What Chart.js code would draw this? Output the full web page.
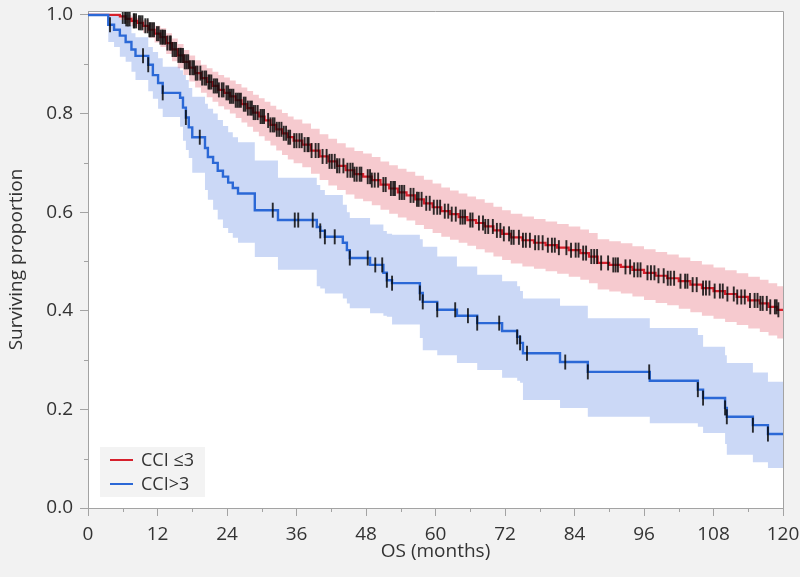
<!DOCTYPE html>
<html>
<head>
<meta charset="utf-8">
<title>Overall survival by CCI</title>
<script src="https://cdn.jsdelivr.net/npm/chart.js@4.4.0/dist/chart.umd.min.js"></script>
<style>
  html, body { margin: 0; padding: 0; background: #f2f2f2; }
  canvas { display: block; }
</style>
</head>
<body>
<canvas id="kmChart" width="800" height="577"></canvas>
<script>
// Kaplan-Meier overall survival, CCI <=3 vs CCI >3, with 95% bands and censor ticks.
// Values.

// CCI <=3 (red)
const RED_T = [0, 5.5, 6.5, 7.5, 8.5, 9.5, 10.5, 11.5, 12.5, 13.5, 14.5, 15.5, 16.5, 17.5, 18.5, 19.5,
  20.5, 21.5, 22.5, 23.5, 24.5, 25.5, 26.5, 27.5, 28.5, 29.5, 30.5, 31.5, 32.5, 33.5, 34.5, 35.5,
  37, 38.5, 40, 41.5, 43, 44.5, 46, 47.5, 49, 50.5, 52, 53.5, 55, 56.5, 58, 59.5, 61, 62.5, 64, 65.5,
  67, 68.5, 70, 71.5, 73, 75, 77, 79, 81, 83, 85, 86.5, 88, 90, 92, 94, 96, 98, 100, 102, 104, 106,
  108, 110, 112, 114, 116, 117.5, 119, 120];
const RED_S = [1.0, 0.997, 0.992, 0.988, 0.984, 0.978, 0.970, 0.962, 0.955, 0.943, 0.930, 0.918, 0.905, 0.893, 0.882, 0.872,
  0.864, 0.856, 0.848, 0.842, 0.835, 0.827, 0.819, 0.811, 0.802, 0.794, 0.786, 0.777, 0.768, 0.760, 0.752, 0.745,
  0.737, 0.725, 0.713, 0.703, 0.694, 0.685, 0.677, 0.672, 0.665, 0.656, 0.648, 0.640, 0.634, 0.626, 0.618, 0.610, 0.602, 0.596, 0.590, 0.584,
  0.578, 0.571, 0.563, 0.556, 0.549, 0.543, 0.538, 0.533, 0.528, 0.523, 0.517, 0.510, 0.497, 0.493, 0.489, 0.483, 0.477, 0.471, 0.466, 0.460, 0.453, 0.446,
  0.440, 0.434, 0.428, 0.421, 0.415, 0.408, 0.402, 0.402];
const RED_HI = [1.0, 1.0, 1.0, 0.997, 0.994, 0.990, 0.984, 0.978, 0.973, 0.963, 0.952, 0.941, 0.929, 0.918, 0.908, 0.899,
  0.892, 0.885, 0.878, 0.873, 0.867, 0.860, 0.853, 0.846, 0.838, 0.831, 0.824, 0.816, 0.808, 0.801, 0.794, 0.788,
  0.780, 0.769, 0.758, 0.749, 0.740, 0.731, 0.724, 0.719, 0.712, 0.703, 0.695, 0.688, 0.682, 0.674, 0.666, 0.658, 0.650, 0.644, 0.638, 0.632,
  0.626, 0.619, 0.611, 0.604, 0.597, 0.591, 0.586, 0.581, 0.576, 0.571, 0.565, 0.558, 0.545, 0.541, 0.537, 0.531, 0.525, 0.519, 0.514, 0.508, 0.501, 0.494,
  0.488, 0.482, 0.476, 0.469, 0.463, 0.456, 0.450, 0.450];
const RED_LO = [1.0, 0.990, 0.983, 0.977, 0.972, 0.964, 0.954, 0.944, 0.935, 0.921, 0.906, 0.892, 0.878, 0.865, 0.853, 0.842,
  0.833, 0.824, 0.815, 0.808, 0.800, 0.791, 0.782, 0.773, 0.763, 0.754, 0.745, 0.735, 0.725, 0.716, 0.707, 0.699,
  0.691, 0.678, 0.665, 0.654, 0.645, 0.636, 0.627, 0.622, 0.614, 0.605, 0.597, 0.589, 0.583, 0.574, 0.566, 0.558, 0.550, 0.544, 0.538, 0.532,
  0.525, 0.518, 0.510, 0.503, 0.496, 0.490, 0.485, 0.480, 0.475, 0.469, 0.463, 0.456, 0.443, 0.439, 0.435, 0.429, 0.422, 0.416, 0.411, 0.404, 0.397, 0.390,
  0.384, 0.377, 0.371, 0.364, 0.357, 0.350, 0.344, 0.344];
const RED_CENSOR = [6.0, 6.4, 6.6, 6.9, 7.2, 7.9, 8.0, 8.3, 8.8, 9.1, 9.4, 9.9, 10.3, 10.6, 10.8, 11.1, 11.4, 11.9, 12.2,
  12.5, 12.8, 13.0, 13.3, 13.7, 14.1, 14.3, 14.6, 14.9, 15.2, 15.6, 15.9, 16.1, 16.4, 16.7, 17.0, 17.3, 17.6, 18.0,
  18.3, 18.6, 18.9, 19.4, 19.7, 20.1, 20.4, 20.8, 21.0, 21.3, 21.7, 22.0, 22.3, 22.6, 23.1, 23.4, 23.9, 24.2, 24.5,
  24.8, 25.1, 25.5, 25.8, 26.1, 26.4, 26.9, 27.2, 27.6, 28.0, 28.3, 28.6, 28.9, 29.3, 29.8, 30.1, 30.4, 31.1, 31.5,
  31.9, 32.2, 32.6, 33.0, 33.4, 33.8, 34.2, 34.6, 34.9, 35.6, 36.0, 36.5, 36.9, 37.4, 37.9, 38.1, 38.6, 39.3, 39.8,
  40.5, 41.2, 41.7, 42.1, 42.6, 43.0, 43.4, 44.1, 44.8, 45.3, 45.7, 46.0, 46.4, 46.9, 47.2, 48.3, 48.7, 49.0, 49.5,
  50.1, 51.0, 51.4, 52.3, 52.7, 53.0, 53.8, 54.2, 54.6, 55.7, 56.2, 56.8, 57.1, 57.6, 58.4, 59.0, 59.7, 60.3, 60.8,
  61.6, 62.2, 62.8, 63.5, 64.3, 64.7, 65.1, 66.0, 66.4, 67.5, 68.2, 68.6, 69.1, 69.9, 70.6, 71.2, 71.8, 72.7, 73.1,
  73.5, 74.4, 75.1, 75.6, 76.3, 77.2, 77.8, 78.5, 79.4, 80.1, 80.6, 81.3, 82.6, 83.4, 84.2, 84.7, 85.5, 86.0, 86.9,
  87.4, 87.9, 88.6, 89.8, 90.7, 91.1, 91.5, 92.8, 93.6, 94.3, 94.9, 95.4, 96.6, 97.2, 97.8, 98.5, 99.4, 100.1, 100.6,
  101.2, 102.3, 103.1, 103.5, 104.4, 105.1, 106.2, 106.7, 107.3, 108.2, 109.1, 109.6, 110.4, 111.5, 112.1, 112.8,
  113.4, 114.3, 115.1, 115.6, 116.1, 116.5, 117.2, 117.8, 118.6, 118.9, 119.2];

// CCI >3 (blue)
const BLUE_T = [0, 3.5, 4.5, 5.5, 6.5, 7.5, 8.2, 10.4, 11.2, 12.1, 12.9, 15.9, 16.4, 16.9, 17.4, 18.0, 20.2, 20.7, 21.6,
  22.4, 23.3, 24.2, 25.0, 25.9, 28.8, 32.8, 39.5, 40.1, 40.9, 44.0, 44.7, 45.2, 48.7, 51.0, 51.6, 52.5, 57.3, 57.8,
  60.3, 63.7, 67.2, 71.5, 74.1, 74.6, 75.1, 81.5, 86.3, 97.0, 105.3, 106.2, 110.0, 110.3, 114.8, 117.4, 120];
const BLUE_S = [1.0, 0.980, 0.970, 0.958, 0.945, 0.930, 0.917, 0.899, 0.878, 0.862, 0.842, 0.832, 0.812, 0.792, 0.772, 0.752, 0.730, 0.712, 0.700,
  0.684, 0.672, 0.660, 0.649, 0.638, 0.604, 0.584, 0.570, 0.562, 0.550, 0.538, 0.523, 0.507, 0.493, 0.477, 0.462, 0.456, 0.436, 0.418,
  0.402, 0.390, 0.375, 0.359, 0.347, 0.335, 0.314, 0.296, 0.276, 0.258, 0.240, 0.223, 0.203, 0.185, 0.168, 0.150, 0.150];
const BLUE_HI = [1.0, 1.0, 1.0, 0.990, 0.980, 0.963, 0.955, 0.935, 0.925, 0.912, 0.895, 0.888, 0.878, 0.868, 0.852, 0.834, 0.820, 0.810, 0.800,
  0.787, 0.775, 0.762, 0.752, 0.742, 0.705, 0.670, 0.655, 0.645, 0.635, 0.615, 0.600, 0.588, 0.575, 0.562, 0.556, 0.554, 0.545, 0.530,
  0.510, 0.490, 0.473, 0.460, 0.450, 0.440, 0.425, 0.410, 0.385, 0.365, 0.351, 0.327, 0.310, 0.294, 0.275, 0.256, 0.256];
const BLUE_LO = [1.0, 0.945, 0.935, 0.915, 0.905, 0.885, 0.868, 0.845, 0.830, 0.810, 0.793, 0.773, 0.745, 0.726, 0.710, 0.680, 0.645, 0.625, 0.605,
  0.585, 0.568, 0.558, 0.548, 0.538, 0.509, 0.483, 0.450, 0.445, 0.435, 0.425, 0.415, 0.405, 0.395, 0.390, 0.388, 0.372, 0.345, 0.320,
  0.310, 0.294, 0.280, 0.264, 0.258, 0.254, 0.219, 0.203, 0.185, 0.172, 0.165, 0.152, 0.130, 0.108, 0.093, 0.081, 0.081];
const BLUE_CENSOR = [3.8, 9.5, 10.4, 12.9, 16.9, 19.3, 31.9, 35.7, 36.3, 38.8, 40.1, 40.9, 42.6, 45.2, 48.3, 49.6, 50.8,
  51.6, 52.5, 57.3, 57.8, 60.3, 63.4, 65.6, 67.2, 71.0, 74.1, 74.6, 75.8, 82.4, 86.3, 96.9, 105.3, 106.2, 110.0, 110.3,
  114.8, 117.4];

const X_MINOR = [6, 18, 30, 42, 54, 66, 78, 90, 102, 114];
const Y_MINOR = [0.1, 0.3, 0.5, 0.7, 0.9];

const FONT = "'Open Sans', 'Noto Sans', sans-serif";
const TEXT = '#333333';
const AXIS = '#a3a3a3';
const RED = '#d6202c';
const BLUE = '#2b68d6';

function pts(ts, vs){
  return ts.map((t, i) => ({ x: t, y: vs[i] }));
}

function survivalAt(ts, ss, t){
  // value of the step curve at time t
  let v = ss[0];
  for (let i = 0; i < ts.length; i++){
    if (ts[i] <= t) v = ss[i]; else break;
  }
  return v;
}

function censorPts(times, ts, ss){
  return times.map(t => ({ x: t, y: survivalAt(ts, ss, t) }));
}

const band = (label, data, color, fill) => ({
  label, data, stepped: true, fill: fill ? '+1' : false,
  backgroundColor: color, borderWidth: 0, pointRadius: 0, order: 5
});

const censor = (label, data) => ({
  label, data, showLine: false, order: 1,
  pointStyle: 'line', pointRotation: 90, pointRadius: 7.5,
  pointBorderColor: 'rgba(10,10,10,0.85)', pointBorderWidth: 1.9
});

// plot area white, page grey, frame on top/right
const framePlugin = {
  id: 'frame',
  beforeDraw(c){
    const {ctx, chartArea: a} = c;
    ctx.save();
    ctx.fillStyle = '#f2f2f2';
    ctx.fillRect(0, 0, c.width, c.height);
    ctx.fillStyle = '#ffffff';
    ctx.fillRect(a.left, a.top, a.right - a.left, a.bottom - a.top);
    ctx.restore();
  },
  afterDraw(c){
    const {ctx, chartArea: a} = c;
    ctx.save();
    ctx.strokeStyle = AXIS;
    ctx.lineWidth = 1;
    ctx.beginPath();
    ctx.moveTo(a.left, a.top + 0.5);
    ctx.lineTo(a.right + 0.5, a.top + 0.5);
    ctx.lineTo(a.right + 0.5, a.bottom);
    ctx.stroke();
    ctx.restore();
  }
};

const minorTicks = {
  id: 'minorTicks',
  afterDraw(c){
    const {ctx, chartArea: a} = c;
    const xs = c.scales.x, ys = c.scales.y;
    ctx.save();
    ctx.strokeStyle = AXIS;
    ctx.lineWidth = 1;
    ctx.beginPath();
    for (const v of X_MINOR){
      const px = Math.round(xs.getPixelForValue(v)) + 0.5;
      ctx.moveTo(px, a.bottom);
      ctx.lineTo(px, a.bottom + 4);
    }
    for (const v of Y_MINOR){
      const py = Math.round(ys.getPixelForValue(v)) + 0.5;
      ctx.moveTo(a.left - 4, py);
      ctx.lineTo(a.left, py);
    }
    ctx.stroke();
    ctx.restore();
  }
};

// legend box in the lower left corner of the plot
const cornerLegend = {
  id: 'cornerLegend',
  afterDraw(c){
    const {ctx, chartArea: a} = c;
    const items = [
      { text: 'CCI \u22643', color: RED },
      { text: 'CCI>3', color: BLUE }
    ];
    const x = a.left + 12, y = a.bottom - 61;
    ctx.save();
    ctx.fillStyle = '#f3f3f3';
    ctx.fillRect(x, y, 105, 50);
    ctx.font = `18px ${FONT}`;
    ctx.textBaseline = 'middle';
    items.forEach((it, i) => {
      const ly = y + 13 + i * 24;
      ctx.strokeStyle = it.color;
      ctx.lineWidth = 2;
      ctx.beginPath();
      ctx.moveTo(x + 10, ly);
      ctx.lineTo(x + 33, ly);
      ctx.stroke();
      ctx.fillStyle = TEXT;
      ctx.fillText(it.text, x + 41, ly + 1);
    });
    ctx.restore();
  }
};

const chart = new Chart(document.getElementById('kmChart'), {
  type: 'line',
  data: {
    datasets: [
      band('CCI <=3 upper', pts(RED_T, RED_HI), 'rgba(226,80,95,0.3)', true),
      band('CCI <=3 lower', pts(RED_T, RED_LO), 'rgba(226,80,95,0.3)', false),
      band('CCI >3 upper', pts(BLUE_T, BLUE_HI), 'rgba(82,125,225,0.3)', true),
      band('CCI >3 lower', pts(BLUE_T, BLUE_LO), 'rgba(82,125,225,0.3)', false),
      { label: 'CCI \u22643', data: pts(RED_T, RED_S), stepped: true, borderColor: RED, borderWidth: 2.2, pointRadius: 0, fill: false, order: 3 },
      { label: 'CCI>3', data: pts(BLUE_T, BLUE_S), stepped: true, borderColor: BLUE, borderWidth: 2.4, pointRadius: 0, fill: false, order: 2 },
      censor('CCI <=3 censored', censorPts(RED_CENSOR, RED_T, RED_S)),
      censor('CCI >3 censored', censorPts(BLUE_CENSOR, BLUE_T, BLUE_S))
    ]
  },
  options: {
    responsive: false,
    animation: false,
    layout: { padding: { top: 11, right: 17, left: 0, bottom: 0 } },
    plugins: {
      legend: { display: false },
      tooltip: { enabled: false }
    },
    scales: {
      x: {
        type: 'linear', min: 0, max: 120,
        ticks: { stepSize: 12, padding: 7, color: TEXT, font: { family: FONT, size: 19 }, maxRotation: 0, autoSkip: false },
        grid: { drawOnChartArea: false, tickLength: 8, tickColor: AXIS },
        border: { color: AXIS },
        title: { display: true, text: 'OS (months)', color: TEXT, font: { family: FONT, size: 19 }, padding: { top: 0, bottom: 14 } },
        afterFit(s){ s.height = 69; s.paddingLeft = 0; s.paddingRight = 0; }
      },
      y: {
        min: 0, max: 1.008,
        ticks: { stepSize: 0.2, includeBounds: false, padding: 7, color: TEXT, font: { family: FONT, size: 19 },
          callback: v => Number(v).toFixed(1) },
        grid: { drawOnChartArea: false, tickLength: 8, tickColor: AXIS },
        border: { color: AXIS },
        title: { display: true, text: 'Surviving proportion', color: TEXT, font: { family: FONT, size: 19 }, padding: { top: 5, bottom: 0 } },
        afterFit(s){ s.width = 88; s.paddingTop = 0; s.paddingBottom = 0; }
      }
    }
  },
  plugins: [framePlugin, minorTicks, cornerLegend]
});
</script>
</body>
</html>
